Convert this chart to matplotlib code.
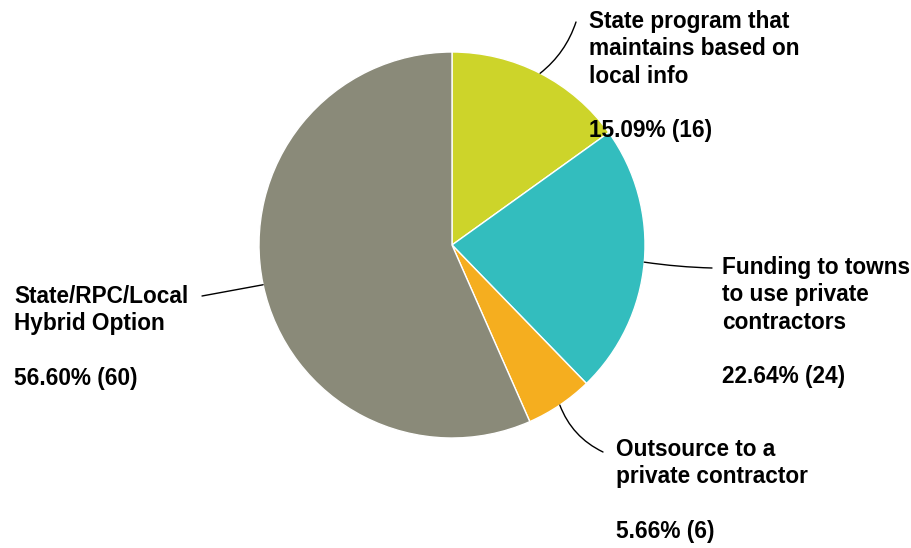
import matplotlib.pyplot as plt
import numpy as np

plt.rcParams['font.family'] = ['Liberation Sans', 'DejaVu Sans']

categories = [
    "State program that\nmaintains based on\nlocal info",
    "Funding to towns\nto use private\ncontractors",
    "Outsource to a\nprivate contractor",
    "State/RPC/Local\nHybrid Option",
]
counts = [16, 24, 6, 60]
colors = ["#cdd42a", "#33bdbe", "#f5ae1f", "#8a8a79"]

# label anchor (top-left of text) and end of the leader line, in pixels
label_pos = [(589, 10), (722, 256), (616, 438), (14, 285)]
line_end = [(576, 22), (712, 268), (603, 452), (202, 296)]
line_rad = [-0.15, -0.03, -0.2, 0.0]

W, H = 911, 548
fig = plt.figure(figsize=(W / 100, H / 100), dpi=100)
ax = fig.add_axes([0, 0, 1, 1])

cx, cy, r = 452, 245, 193
ax.pie(counts, colors=colors, center=(cx, cy), radius=r,
       startangle=-90, counterclock=True, frame=True,
       wedgeprops=dict(edgecolor='white', linewidth=1))
ax.set_xlim(0, W)
ax.set_ylim(H, 0)
ax.set_aspect('equal')
ax.axis('off')

total = sum(counts)
cum = np.cumsum([0] + counts)
for i, (cat, n) in enumerate(zip(categories, counts)):
    mid = -90 + (cum[i] + n / 2) / total * 360
    px = cx + r * np.cos(np.radians(mid))
    py = cy + r * np.sin(np.radians(mid))
    ax.annotate("", xy=(px, py), xytext=line_end[i],
                arrowprops=dict(arrowstyle='-', color='black', lw=1,
                                shrinkA=0, shrinkB=0,
                                connectionstyle=f"arc3,rad={line_rad[i]}"))
    pct = n / total * 100
    ax.text(*label_pos[i], f"{cat}\n\n{pct:.2f}% ({n})", ha='left', va='top',
            fontsize=16.3, fontweight='bold', linespacing=1.24)

fig.savefig("out.png", dpi=100)
